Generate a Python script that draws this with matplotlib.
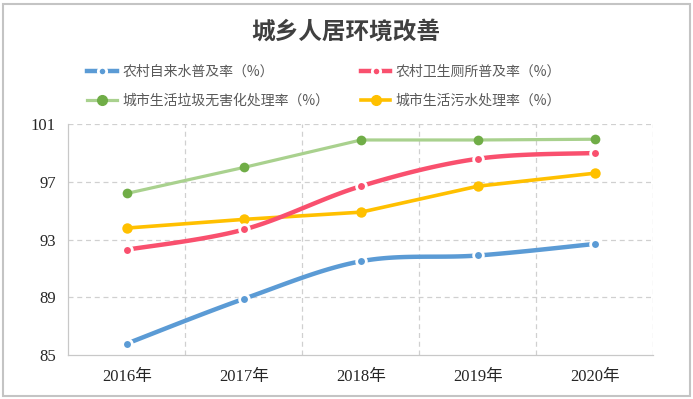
import numpy as np
import matplotlib
matplotlib.use("Agg")
import matplotlib.pyplot as plt
from matplotlib.lines import Line2D
from matplotlib.patches import Rectangle

plt.rcParams['font.family'] = ['Noto Sans CJK SC', 'DejaVu Sans']

years = ["2016年", "2017年", "2018年", "2019年", "2020年"]
tap_water = [85.8, 88.9, 91.5, 91.9, 92.7]
sanitary_toilet = [92.3, 93.7, 96.7, 98.6, 99.0]
garbage = [96.2, 98.0, 99.9, 99.9, 99.95]
sewage = [93.8, 94.4, 94.9, 96.7, 97.6]

labels = ["农村自来水普及率（%）", "城市生活垃圾无害化处理率（%）",
          "农村卫生厕所普及率（%）", "城市生活污水处理率（%）"]
y_ticks = [85, 89, 93, 97, 101]


def smooth(x, y, n=30):
    # bezier smoothing like excel's "smoothed line"
    x = np.asarray(x, float)
    y = np.asarray(y, float)
    px = np.concatenate([[x[0]], x, [x[-1]]])
    py = np.concatenate([[y[0]], y, [y[-1]]])
    xs, ys = [], []
    t = np.linspace(0, 1, n)
    for i in range(len(x) - 1):
        p0 = np.array([px[i + 1], py[i + 1]])
        p3 = np.array([px[i + 2], py[i + 2]])
        c1 = p0 + (np.array([px[i + 2], py[i + 2]]) - np.array([px[i], py[i]])) / 6
        c2 = p3 - (np.array([px[i + 3], py[i + 3]]) - np.array([px[i + 1], py[i + 1]])) / 6
        b = ((1 - t) ** 3)[:, None] * p0 + (3 * (1 - t) ** 2 * t)[:, None] * c1 \
            + (3 * (1 - t) * t ** 2)[:, None] * c2 + (t ** 3)[:, None] * p3
        xs.append(b[:, 0])
        ys.append(b[:, 1])
    return np.concatenate(xs), np.concatenate(ys)


fig = plt.figure(figsize=(6.93, 3.99), dpi=100)
ax = fig.add_axes([0.0988, 0.110, 0.8442, 0.579])

x = np.arange(len(years))
blue, red = "#5B9BD5", "#F9506E"
green_line, green_mk = "#A9D18E", "#70AD47"
yellow = "#FFC000"

series = [
    (garbage, green_line, green_mk, 2.3, 7, 0, False),
    (sewage, yellow, yellow, 2.6, 7.5, 0, False),
    (sanitary_toilet, red, red, 3.2, 7, 2, True),
    (tap_water, blue, blue, 3.2, 7, 2, True),
]
for vals, lc, mc, lw, ms, mew, smoothed in series:
    if smoothed:
        sx, sy = smooth(x, vals)
    else:
        sx, sy = x, vals
    ax.plot(sx, sy, color=lc, lw=lw, solid_capstyle="round", zorder=3)
    ax.plot(x, vals, ls="none", marker="o", ms=ms, mfc=mc,
            mec="white" if mew else mc, mew=mew if mew else 0, zorder=4)

ax.set_xlim(-0.5, 4.5)
ax.set_ylim(85, 101)
ax.set_yticks(y_ticks)
ax.set_xticks(x)
ax.set_xticklabels(years)
serif = ['Liberation Serif', 'Noto Sans CJK SC']
for lab in ax.get_yticklabels() + ax.get_xticklabels():
    lab.set_family(serif)
    lab.set_fontsize(12)
    lab.set_color("#262626")
ax.tick_params(axis="both", length=0)
ax.tick_params(axis="y", pad=9)
ax.tick_params(axis="x", pad=10)

for v in y_ticks[1:]:
    ax.axhline(v, color="#D0D0D0", lw=0.9, ls=(0, (4, 3)), zorder=1)
for v in [0.5, 1.5, 2.5, 3.5, 4.5]:
    ax.axvline(v, color="#D0D0D0", lw=0.9, ls=(0, (4, 3)), zorder=1)
for s in ["top", "right"]:
    ax.spines[s].set_visible(False)
for s in ["left", "bottom"]:
    ax.spines[s].set_color("#C8C8C8")
    ax.spines[s].set_linewidth(0.9)

handles = [
    Line2D([], [], color=blue, lw=3.2, marker="o", ms=6, mfc=blue, mec="white", mew=2),
    Line2D([], [], color=green_line, lw=2.3, marker="o", ms=7, mfc=green_mk, mec=green_mk),
    Line2D([], [], color=red, lw=3.2, marker="o", ms=6, mfc=red, mec="white", mew=2),
    Line2D([], [], color=yellow, lw=2.6, marker="o", ms=7, mfc=yellow, mec=yellow),
]
fig.legend(handles, labels, ncol=2, loc="upper left", bbox_to_anchor=(0.108, 0.868),
           frameon=False, fontsize=10, handlelength=2.1, handletextpad=0.4,
           columnspacing=2.3, labelspacing=1.05, labelcolor="#595959")

fig.text(0.499, 0.922, "城乡人居环境改善", ha="center", va="center",
         fontsize=17, fontweight="bold", color="#404040")

fig.patches.append(Rectangle((0.004, 0.008), 0.991, 0.983, transform=fig.transFigure,
                             fill=False, edgecolor="#C4C4C4", lw=1.5))

fig.savefig("out.png", dpi=100)
